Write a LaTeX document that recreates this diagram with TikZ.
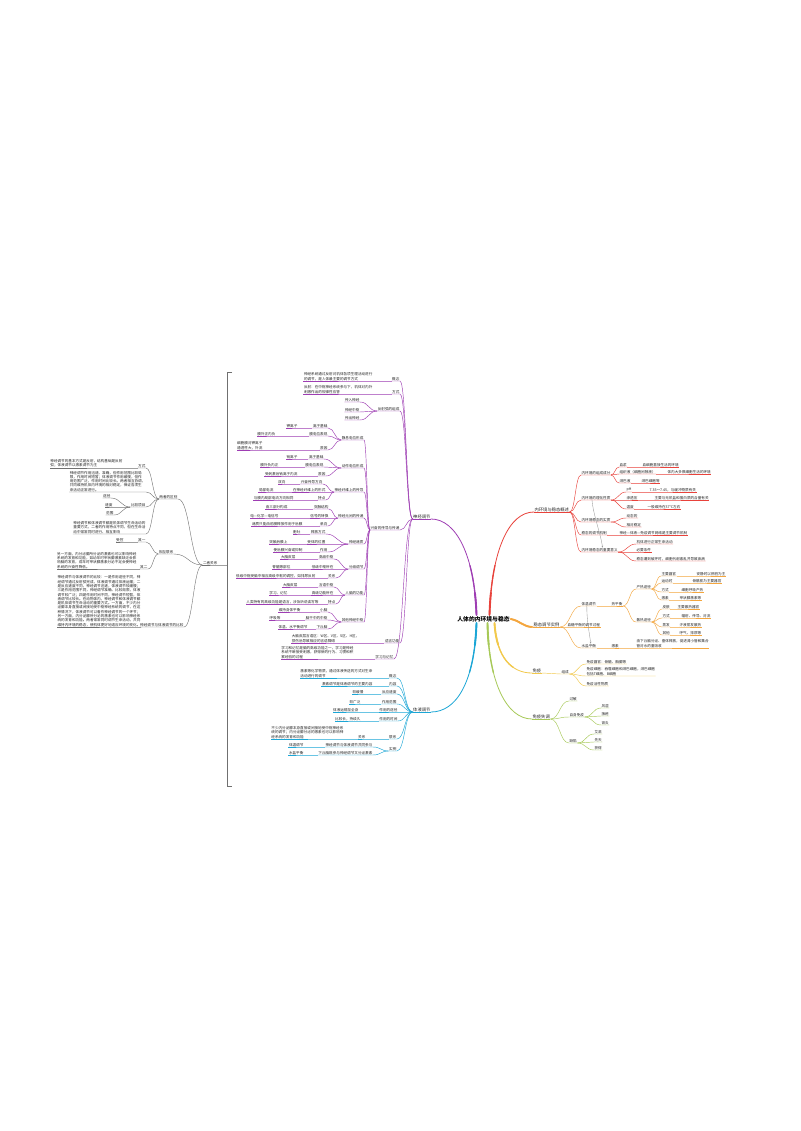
\documentclass[tikz,border=0pt]{standalone}
\usepackage{fontspec}
\setmainfont{Noto Sans CJK SC}
\usetikzlibrary{calc,arrows.meta}
\definecolor{cPur}{HTML}{9E3DB3}
\definecolor{cCya}{HTML}{1BA6D6}
\definecolor{cRed}{HTML}{E8423B}
\definecolor{cOra}{HTML}{F4A63E}
\definecolor{cYel}{HTML}{F2C94C}
\definecolor{cGre}{HTML}{A7C957}
\definecolor{cGry}{HTML}{707070}
\tikzset{
 base/.style={inner xsep=0.6pt, inner ysep=0.5pt, outer sep=0pt, align=left, font=\fontsize{3.6}{4.3}\selectfont, text=black!85},
 lt/.style={base, anchor=south east},
 rt/.style={base, anchor=south west},
 mlt/.style={lt, font=\fontsize{4.3}{5}\selectfont},
 mrt/.style={rt, font=\fontsize{4.3}{5}\selectfont},
 pl/.style={draw=cPur, line width=0.45pt},
 cl/.style={draw=cCya, line width=0.45pt},
 rl/.style={draw=cRed, line width=0.45pt},
 ol/.style={draw=cOra, line width=0.45pt},
 yl/.style={draw=cYel, line width=0.45pt},
 gl/.style={draw=cGre, line width=0.45pt},
 kl/.style={draw=cGry, line width=0.4pt},
 rel/.style={draw=black!40, line width=0.35pt, -{Stealth[length=2pt,width=1.6pt]}},
}
\newcommand{\brL}[5]{\node[lt] (#3) at (#4) {#5};
 \draw[#1] (#2.south west) .. controls ($(#2.south west)!.5!(#2.south west -| #3.south east)$) and ($(#3.south east)!.5!(#2.south west |- #3.south east)$) .. (#3.south east) -- (#3.south west);}
\newcommand{\brR}[5]{\node[rt] (#3) at (#4) {#5};
 \draw[#1] (#2.south east) .. controls ($(#2.south east)!.5!(#2.south east -| #3.south west)$) and ($(#3.south west)!.5!(#2.south east |- #3.south west)$) .. (#3.south west) -- (#3.south east);}
\newcommand{\mainline}[2]{%
 \draw[#1, line width=0.8pt, line cap=round] #2;
 \draw[#1, line width=1.3pt, line cap=round, dash pattern=on 50pt off 2000pt] #2;
 \draw[#1, line width=1.9pt, line cap=round, dash pattern=on 22pt off 2000pt] #2;}
\begin{document}
\begin{tikzpicture}[x=1pt,y=-1pt]
\fill[white] (0,0) rectangle (800,1131);
\useasboundingbox (0,0) rectangle (800,1131);

\node[font=\fontsize{5.8}{7}\selectfont\bfseries, inner sep=1pt] (root) at (483.5,619) {人体的内环境与稳态};

% ---------------- purple ----------------
\node[mlt] (P0) at (431,519) {神经调节};
\mainline{cPur}{([xshift=-7pt]root.north) .. controls +(-2,-60) and +(25,0) .. (P0.south east)}
\draw[pl] (P0.south east) -- (P0.south west);
\brL{pl}{P0}{P1}{400,381}{概念}
\brL{pl}{P1}{P1t}{373,381}{神经系统通过反射对机体各项生理活动进行\\的调节，是人体最主要的调节方式}
\brL{pl}{P0}{P2}{400,394}{方式}
\brL{pl}{P2}{P2t}{373,394}{反射：在中枢神经系统参与下，机体对内外\\刺激作出的规律性应答}
\brL{pl}{P0}{P3}{400,411}{反射弧的组成}
\brL{pl}{P3}{P3a}{360,402}{传入神经}
\brL{pl}{P3}{P3b}{360,412}{神经中枢}
\brL{pl}{P3}{P3c}{360,420}{传出神经}
\brL{pl}{P0}{P4}{400,530}{兴奋的传导与传递}
% G1
\brL{pl}{P4}{G1}{364,440}{静息电位形成}
\brL{pl}{G1}{G1a}{328,428}{离子基础}
\brL{pl}{G1a}{G1at}{298,428}{钾离子}
\brL{pl}{G1}{G1b}{328,436}{膜电位表现}
\brL{pl}{G1b}{G1bt}{276,436}{膜外正内负}
\brL{pl}{G1}{G1c}{328,450}{原因}
\brL{pl}{G1c}{G1ct}{263,450}{细胞膜对钾离子\\通透性大，外流}
% G2
\brL{pl}{P4}{G2}{364,468}{动作电位形成}
\brL{pl}{G2}{G2a}{324,459}{离子基础}
\brL{pl}{G2a}{G2at}{298,459}{钠离子}
\brL{pl}{G2}{G2b}{324,467}{膜电位表现}
\brL{pl}{G2b}{G2bt}{279,467}{膜外负内正}
\brL{pl}{G2}{G2c}{326,476}{原因}
\brL{pl}{G2c}{G2ct}{298,476}{受刺激后钠离子内流}
% G3
\brL{pl}{P4}{G3}{364,492}{神经纤维上的传导}
\brL{pl}{G3}{G3a}{323,484}{兴奋传导方向}
\brL{pl}{G3a}{G3at}{286,484}{双向}
\brL{pl}{G3}{G3b}{326,492}{在神经纤维上的形式}
\brL{pl}{G3b}{G3bt}{274,492}{局部电流}
\brL{pl}{G3}{G3c}{326,500}{特点}
\brL{pl}{G3c}{G3ct}{294,500}{与膜内局部电流方向相同}
% G4
\brL{pl}{P4}{G4}{364,518}{神经元间的传递}
\brL{pl}{G4}{G4a}{329,509}{突触结构}
\brL{pl}{G4a}{G4at}{288,509}{由三部分构成}
\brL{pl}{G4}{G4b}{329,518}{信号的转换}
\brL{pl}{G4b}{G4bt}{279,518}{电—化学—电信号}
\brL{pl}{G4}{G4c}{328,526}{单向}
\brL{pl}{G4c}{G4ct}{303,526}{递质只能由前膜释放作用于后膜}
% G5
\brL{pl}{P4}{G5}{364,544}{神经递质}
\brL{pl}{G5}{G5a}{326,534}{释放方式}
\brL{pl}{G5a}{G5at}{301,534}{胞吐}
\brL{pl}{G5}{G5b}{326,544}{受体的位置}
\brL{pl}{G5b}{G5bt}{288,544}{突触后膜上}
\brL{pl}{G5}{G5c}{328,552}{作用}
\brL{pl}{G5c}{G5ct}{303,552}{使后膜兴奋或抑制}
% G6
\brL{pl}{P4}{G6}{364,569}{分级调节}
\brL{pl}{G6}{G6a}{334,559}{高级中枢}
\brL{pl}{G6a}{G6at}{296,559}{大脑皮层}
\brL{pl}{G6}{G6b}{334,569}{低级中枢所在}
\brL{pl}{G6b}{G6bt}{291,569}{脊髓等部位}
\brL{pl}{G6}{G6c}{336,578}{关系}
\brL{pl}{G6c}{G6ct}{316,578}{低级中枢受脑中相应高级中枢的调控，如排尿反射}
% G7
\brL{pl}{P4}{G7}{364,595}{人脑的功能}
\brL{pl}{G7}{G7a}{334,587}{言语中枢}
\brL{pl}{G7a}{G7at}{298,587}{大脑皮层}
\brL{pl}{G7}{G7b}{334,595}{高级功能所在}
\brL{pl}{G7b}{G7bt}{288,595}{学习、记忆}
\brL{pl}{G7}{G7c}{336,604}{特点}
\brL{pl}{G7c}{G7ct}{319,604}{人类特有的高级功能是语言，涉及听说读写等}
% G8
\brL{pl}{P4}{G8}{364,622}{其他神经中枢}
\brL{pl}{G8}{G8a}{328,612}{小脑}
\brL{pl}{G8a}{G8at}{301,612}{维持身体平衡}
\brL{pl}{G8}{G8b}{328,620}{脑干中的中枢}
\brL{pl}{G8b}{G8bt}{281,620}{呼吸等}
\brL{pl}{G8}{G8c}{328,629}{下丘脑}
\brL{pl}{G8c}{G8ct}{308,629}{体温、水平衡调节}
\brL{pl}{P0}{P5}{400,643}{语言功能}
\brL{pl}{P5}{P5t}{360,643}{大脑皮层言语区：W区、V区、S区、H区，\\损伤后导致相应的言语障碍}
\brL{pl}{P0}{P6}{394,659}{学习与记忆}
\brL{pl}{P6}{P6t}{354,659}{学习和记忆是脑的高级功能之一，学习是神经\\系统不断接受刺激，获得新的行为、习惯和积\\累经验的过程}

% ---------------- cyan ----------------
\node[mlt] (C0) at (431,712) {体液调节};
\mainline{cCya}{([xshift=-7pt]root.south) .. controls +(-2,60) and +(25,0) .. (C0.south east)}
\draw[cl] (C0.south east) -- (C0.south west);
\brL{cl}{C0}{C1}{397,678}{概念}
\brL{cl}{C1}{C1t}{373,678}{激素等化学物质，通过体液传送的方式对生命\\活动进行的调节}
\brL{cl}{C0}{C2}{397,686}{内容}
\brL{cl}{C2}{C2t}{373,686}{激素调节是体液调节的主要内容}
\brL{cl}{C0}{C3}{397,694}{反应速度}
\brL{cl}{C3}{C3t}{364,694}{较缓慢}
\brL{cl}{C0}{C4}{397,704}{作用范围}
\brL{cl}{C4}{C4t}{361,704}{较广泛}
\brL{cl}{C0}{C5}{398,712}{作用的途径}
\brL{cl}{C5}{C5t}{359,712}{体液运输至全身}
\brL{cl}{C0}{C6}{398,721}{作用的时间}
\brL{cl}{C6}{C6t}{361,721}{比较长，持续久}
\brL{cl}{C0}{C7}{397,739}{联系}
\brL{cl}{C7}{C7m}{366,739}{关系}
\brL{cl}{C7m}{C7t}{344,739}{不少内分泌腺本身直接或间接地受中枢神经系\\统的调节；内分泌腺分泌的激素也可以影响神\\经系统的发育和功能}
\brL{cl}{C0}{C8}{397,751}{实例}
\brL{cl}{C8}{C8a}{373,747}{神经调节与体液调节共同参与}
\brL{cl}{C8a}{C8at}{304,747}{体温调节}
\brL{cl}{C8}{C8b}{373,755}{下丘脑既参与神经调节又分泌激素}
\brL{cl}{C8b}{C8bt}{304,755}{水盐平衡}

% ---------------- red ----------------
\node[mrt] (R0) at (534,512) {内环境与稳态概述};
\mainline{cRed}{([xshift=6pt]root.north) .. controls +(2,-65) and +(-25,0) .. (R0.south west)}
\draw[rl] (R0.south west) -- (R0.south east);
\brR{rl}{R0}{R1}{581,475}{内环境的组成成分}
\brR{rl}{R1}{R1a}{619,467}{血浆}
\brR{rl}{R1a}{R1at}{642,467}{血细胞直接生活的环境}
\brR{rl}{R1}{R1b}{619,474}{组织液（细胞间隙液）}
\brR{rl}{R1b}{R1bt}{667,474}{体内大多数细胞生活的环境}
\brR{rl}{R1}{R1c}{619,483}{淋巴液}
\brR{rl}{R1c}{R1ct}{641,483}{淋巴细胞等}
\brR{rl}{R0}{R2}{581,500}{内环境的理化性质}
\brR{rl}{R2}{R2a}{626,492}{pH}
\brR{rl}{R2a}{R2at}{649,492}{7.35～7.45，与缓冲物质有关}
\brR{rl}{R2}{R2b}{626,500}{渗透压}
\brR{rl}{R2b}{R2bt}{654,500}{主要与无机盐和蛋白质的含量有关}
\brR{rl}{R2}{R2c}{626,509}{温度}
\brR{rl}{R2c}{R2ct}{647,509}{一般维持在37℃左右}
\brR{rl}{R0}{R3}{581,522}{内环境稳态的实质}
\brR{rl}{R3}{R3a}{626,518}{动态的}
\brR{rl}{R3}{R3b}{626,527}{相对稳定}
\brR{rl}{R0}{R4}{581,535}{稳态的调节机制}
\brR{rl}{R4}{R4t}{619,535}{神经—体液—免疫调节网络是主要调节机制}
\brR{rl}{R0}{R5}{581,552}{内环境稳态的重要意义}
\brR{rl}{R5}{R5a}{636,544}{机体进行正常生命活动}
\brR{rl}{R5}{R5b}{636,552}{必要条件}
\brR{rl}{R5}{R5c}{636,561}{稳态遭到破坏时，细胞代谢紊乱并导致疾病}
\draw[rel] ([xshift=-4pt]R2.south) .. controls +(1,14) and +(-2,-14) .. ([xshift=3pt]R5.north);

% ---------------- orange ----------------
\node[mrt] (O0) at (533,627) {稳态调节实例};
\mainline{cOra}{(root.east) .. controls +(10,2) and +(-10,0) .. (O0.south west)}
\draw[ol] (O0.south west) -- (O0.south east);
\brR{ol}{O0}{O1}{581,606}{体温调节}
\brR{ol}{O1}{O1x}{611,606}{热平衡}
\brR{ol}{O1x}{Oh}{636,589}{产热途径}
\brR{ol}{Oh}{Oh1}{661,576}{主要器官}
\brR{ol}{Oh1}{Oh1t}{696,576}{安静时以肝脏为主}
\brR{ol}{Oh}{Oh2}{661,583}{运动时}
\brR{ol}{Oh2}{Oh2t}{692,583}{骨骼肌为主要器官}
\brR{ol}{Oh}{Oh3}{661,592}{方式}
\brR{ol}{Oh3}{Oh3t}{681,592}{细胞呼吸产热}
\brR{ol}{Oh}{Oh4}{661,600}{激素}
\brR{ol}{Oh4}{Oh4t}{679,600}{甲状腺激素等}
\brR{ol}{O1x}{Os}{636,622}{散热途径}
\brR{ol}{Os}{Os1}{662,609}{皮肤}
\brR{ol}{Os1}{Os1t}{677,609}{主要散热器官}
\brR{ol}{Os}{Os2}{662,618}{方式}
\brR{ol}{Os2}{Os2t}{681,618}{辐射、传导、对流}
\brR{ol}{Os}{Os3}{662,627}{蒸发}
\brR{ol}{Os3}{Os3t}{679,627}{汗液蒸发散热}
\brR{ol}{Os}{Os4}{662,635}{其他}
\brR{ol}{Os4}{Os4t}{679,635}{呼气、排尿等}
\brR{ol}{O0}{O2}{567,627}{血糖平衡的调节过程}
\brR{ol}{O0}{O3}{581,648}{水盐平衡}
\brR{ol}{O3}{O3x}{611,648}{激素}
\brR{ol}{O3x}{O3t}{636,648}{由下丘脑分泌、垂体释放，促进肾小管和集合\\管对水的重吸收}
\draw[rel] ([xshift=-2pt]O1.south) .. controls +(0,14) and +(-2,-14) .. ([xshift=2pt]O3.north);

% ---------------- yellow ----------------
\node[mrt] (Y0) at (532,673) {免疫};
\mainline{cYel}{([xshift=11pt]root.south) .. controls +(2,35) and +(-20,0) .. (Y0.south west)}
\draw[yl] (Y0.south west) -- (Y0.south east);
\brR{yl}{Y0}{Y1}{561,674}{组成}
\brR{yl}{Y1}{Y1a}{586,664}{免疫器官：骨髓、胸腺等}
\brR{yl}{Y1}{Y1b}{586,676}{免疫细胞：吞噬细胞和淋巴细胞，淋巴细胞\\包括T细胞、B细胞}
\brR{yl}{Y1}{Y1c}{586,686}{免疫活性物质}

% ---------------- green ----------------
\node[mrt] (E0) at (532,719) {免疫失调};
\mainline{cGre}{([xshift=4pt]root.south) .. controls +(1,60) and +(-25,0) .. (E0.south west)}
\draw[gl] (E0.south west) -- (E0.south east);
\brR{gl}{E0}{Ea}{569,701}{过敏}
\brR{gl}{E0}{Eb}{569,717}{自身免疫}
\brR{gl}{Eb}{Eb1}{601,708}{风湿}
\brR{gl}{Eb}{Eb2}{601,716}{狼疮}
\brR{gl}{Eb}{Eb3}{601,725}{肾炎}
\brR{gl}{E0}{Ec}{569,743}{缺陷}
\brR{gl}{Ec}{Ec1}{594,734}{艾滋}
\brR{gl}{Ec}{Ec2}{594,742}{先天}
\brR{gl}{Ec}{Ec3}{594,750}{获得}

% ---------------- left summary ----------------
\draw[kl] (232,372) -- (227,372) -- (227,786) -- (232,786);
\coordinate (brk) at (227,565);
\node[lt] (LR) at (218,565) {二者关系};
\draw[kl] (brk) -- (LR.south east) -- (LR.south west);
\brL{kl}{LR}{L1}{178,499}{两者的区别}
\brL{kl}{L1}{L1a}{146,468}{方式}
\brL{kl}{L1a}{L1at}{123,468}{神经调节的基本方式是反射，结构基础是反射\\弧；体液调节以激素调节为主}
\brL{kl}{L1}{L1b}{146,492}{神经调节作用迅速、准确，但作用范围比较局\\限，作用时间短暂；体液调节作用缓慢，但作\\用范围广泛，作用时间比较长。两者相互协调，\\共同维持机体内环境的相对稳定，保证各项生\\命活动正常进行。}
\brL{kl}{L1}{L1c}{146,507}{比较项目}
\brL{kl}{L1c}{L1c1}{111,498}{途径}
\brL{kl}{L1c}{L1c2}{113,507}{速度}
\brL{kl}{L1c}{L1c3}{114,515}{范围}
\brL{kl}{L1}{L1d}{146,534}{神经调节和体液调节都是机体调节生命活动的\\重要方式，二者的作用特点不同，但在生命活\\动中常常同时进行、相互影响}
\brL{kl}{LR}{L2}{174,554}{相互联系}
\brL{kl}{L2}{L2a}{146,542}{其一}
\brL{kl}{L2a}{L2at}{124,542}{受控}
\brL{kl}{L2}{L2b}{148,569}{其二}
\brL{kl}{L2b}{L2bt}{137,569}{另一方面，内分泌腺所分泌的激素也可以影响神经\\系统的发育和功能，如幼年时甲状腺激素缺乏会影\\响脑的发育，成年时甲状腺激素分泌不足会使神经\\系统的兴奋性降低。}
\brL{kl}{LR}{L3}{184,627}{神经调节与体液调节的比较}
\brL{kl}{L3}{L3t}{141,627}{神经调节与体液调节的比较：一是作用途径不同，神\\经调节通过反射弧完成，体液调节通过体液运输；二\\是反应速度不同，神经调节迅速，体液调节较缓慢；\\三是作用范围不同，神经调节准确、比较局限，体液\\调节较广泛；四是作用时间不同，神经调节短暂，体\\液调节比较长。在动物体内，神经调节和体液调节都\\是机体调节生命活动的重要方式。一方面，不少内分\\泌腺本身直接或间接地受中枢神经系统的调节，在这\\种情况下，体液调节可以看作神经调节的一个环节；\\另一方面，内分泌腺所分泌的激素也可以影响神经系\\统的发育和功能。两者常常同时调节生命活动，共同\\维持内环境的稳态，使机体更好地适应环境的变化。}
\end{tikzpicture}
\end{document}
